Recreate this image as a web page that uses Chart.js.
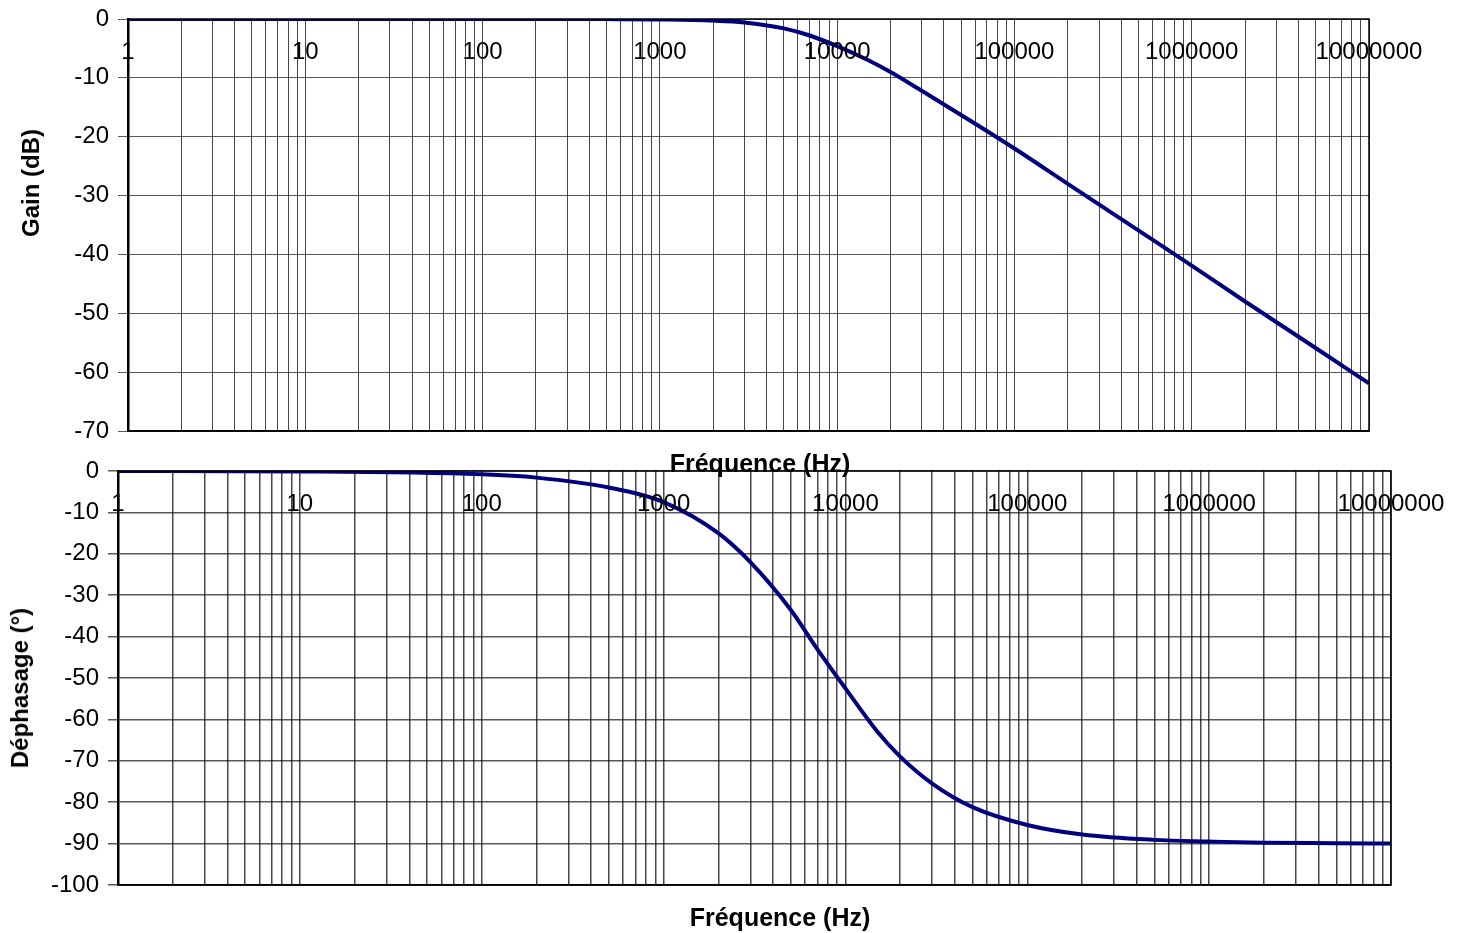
<!DOCTYPE html>
<html>
<head>
<meta charset="utf-8">
<script src="https://cdn.jsdelivr.net/npm/chart.js@4/dist/chart.umd.min.js"></script>
<style>
  body { margin: 0; background: #fff; width: 1465px; height: 933px; position: relative; overflow: hidden; }
  canvas { position: absolute; left: 0; }
  #gainChart { top: 0; }
  #phaseChart { top: 440px; }
  .title {
    position: absolute;
    font: bold 24px "Liberation Sans", Arial, sans-serif;
    color: #000;
    white-space: nowrap;
    transform: translate(-50%, -50%);
  }
  .ytitle { transform: translate(-50%, -50%) rotate(-90deg); }
  .xtitle { font-size: 25px; }
</style>
</head>
<body>
<canvas id="gainChart" width="1465" height="480"></canvas>
<div class="title xtitle" style="left:760px; top:463px;">Fréquence (Hz)</div>
<canvas id="phaseChart" width="1465" height="493"></canvas>
<div class="title xtitle" style="left:780px; top:917px;">Fréquence (Hz)</div>
<div class="title ytitle" style="left:31px; top:183px;">Gain (dB)</div>
<div class="title ytitle" style="left:20px; top:688px;">Déphasage (°)</div>
<script>
document.addEventListener("DOMContentLoaded", () => {

  /* =========================
   DATA
========================= */

  const decadeLabels = [1, 10, 100, 1000, 10000, 100000, 1000000, 10000000];

  const gainFreq = [1, 10, 100, 500, 1000, 2000, 3000, 5000, 7000, 10000, 15000, 20000, 30000, 50000, 100000, 200000, 500000, 1000000, 2000000, 5000000, 10000000];
  const gainDb = [0, 0, 0, -0.02, -0.07, -0.26, -0.58, -1.6, -2.8, -4.6, -7.0, -9.0, -12.2, -16.3, -22.0, -28.0, -35.9, -41.9, -48.0, -55.9, -61.9];

  const phaseFreq = [1, 10, 100, 200, 500, 1000, 2000, 3000, 5000, 7000, 10000, 15000, 20000, 30000, 50000, 100000, 200000, 500000, 1000000, 2000000, 5000000, 10000000];
  const phaseDeg = [0, -0.1, -0.8, -1.6, -4, -7.5, -15, -22, -33.5, -43, -52.5, -63, -69, -75.5, -81.2, -85.5, -87.8, -89.1, -89.5, -89.8, -89.9, -90];

  const FONT = "Liberation Sans";

  // 1..9 x 10^k grid lines on the log axis
  function logGridTicks(scale) {
    const ticks = [];
    for (let e = 0; e < 7; e++) {
      for (let s = 1; s < 10; s++) ticks.push({ value: s * Math.pow(10, e) });
    }
    ticks.push({ value: 1e7 });
    scale.ticks = ticks;
  }

  const decadeLabelPlugin = {
    id: "decadeLabels",
    afterDraw(chart) {
      const { ctx, chartArea, scales } = chart;
      ctx.save();
      ctx.font = "24px '" + FONT + "'";
      ctx.fillStyle = "#000";
      ctx.textAlign = "center";
      ctx.textBaseline = "middle";
      decadeLabels.forEach(v => {
        ctx.fillText(String(v), scales.x.getPixelForValue(v), chartArea.top + 33);
      });
      ctx.restore();
    }
  };

  const framePlugin = {
    id: "frame",
    afterDatasetsDraw(chart) {
      const { ctx, chartArea } = chart;
      ctx.save();
      ctx.strokeStyle = "#000";
      ctx.lineWidth = 1.5;
      ctx.strokeRect(chartArea.left, chartArea.top, chartArea.right - chartArea.left, chartArea.bottom - chartArea.top);
      ctx.restore();
    }
  };

  function makeChart(id, freq, values, yMin, yMax, axisWidth, pad, gridWidth) {
    return new Chart(document.getElementById(id), {
      type: "line",
      data: {
        datasets: [{
          data: freq.map((f, i) => ({ x: f, y: values[i] })),
          borderColor: "#00007f",
          borderWidth: 4,
          pointRadius: 0,
          cubicInterpolationMode: "monotone",
          fill: false
        }]
      },
      options: {
        responsive: false,
        animation: false,
        layout: { padding: pad },
        plugins: {
          legend: { display: false },
          tooltip: { enabled: false }
        },
        scales: {
          x: {
            type: "logarithmic",
            min: 1,
            max: 10000000,
            afterBuildTicks: logGridTicks,
            ticks: { display: false },
            grid: { color: "rgba(0,0,0,0.72)", lineWidth: gridWidth, drawTicks: false },
            border: { color: "#000", width: 1.5 }
          },
          y: {
            min: yMin,
            max: yMax,
            afterFit: scale => { scale.width = axisWidth; },
            ticks: {
              stepSize: 10,
              color: "#000",
              padding: 9,
              font: { family: FONT, size: 24, lineHeight: 0.8 }
            },
            grid: { color: "rgba(0,0,0,0.65)", lineWidth: gridWidth, tickLength: 10 },
            border: { color: "#000", width: 2.5 }
          }
        }
      },
      plugins: [decadeLabelPlugin, framePlugin]
    });
  }

  /* =========================
   GAIN
========================= */

  makeChart("gainChart", gainFreq, gainDb, -70, 0, 128, { left: 0, right: 96, top: 19, bottom: 49 }, 1);

  /* =========================
   PHASE
========================= */

  makeChart("phaseChart", phaseFreq, phaseDeg, -100, 0, 118, { left: 0, right: 74, top: 31, bottom: 48 }, 1.5);

});
</script>
</body>
</html>
